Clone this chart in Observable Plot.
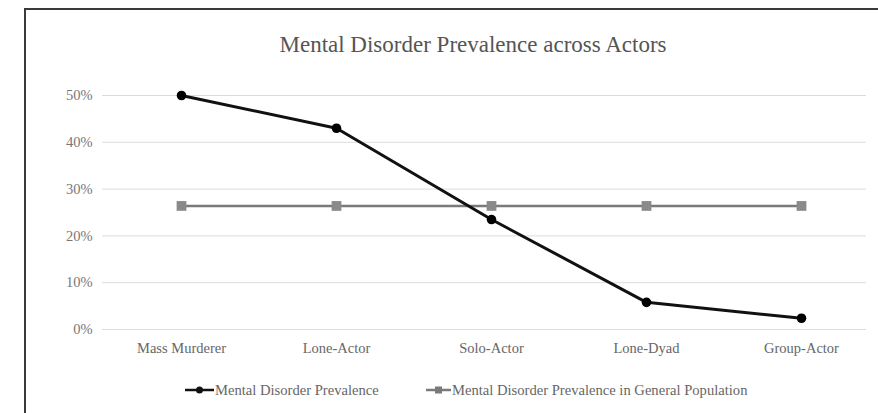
<!DOCTYPE html>
<html>
<head>
<meta charset="utf-8">
<script src="https://cdn.jsdelivr.net/npm/d3@7"></script>
<script src="https://cdn.jsdelivr.net/npm/@observablehq/plot@0.6"></script>
<style>
  html, body { margin: 0; padding: 0; background: #fff; }
  body { position: relative; width: 878px; height: 413px; overflow: hidden; font-family: "Liberation Serif", "Times New Roman", serif; }
  #topline { position: absolute; left: 24px; top: 8px; width: 854px; height: 2px; background: #3a3a3a; }
  #leftline { position: absolute; left: 24px; top: 8px; width: 2px; height: 405px; background: #3a3a3a; }
  #title { position: absolute; left: 68px; width: 810px; top: 33px; text-align: center;
           font-size: 23px; line-height: 23px; color: #555; }
  #chart { position: absolute; left: 0; top: 60px; }
  .leg { position: absolute; top: 381px; height: 18px; display: flex; align-items: center;
         font-size: 14.6px; color: #666; white-space: nowrap; }
  .leg svg { display: block; }
</style>
</head>
<body>
<div id="topline"></div>
<div id="leftline"></div>
<div id="title">Mental Disorder Prevalence across Actors</div>
<div id="chart"></div>
<div class="leg" id="leg1"></div>
<div class="leg" id="leg2"></div>
<script>
const categories = ["Mass Murderer", "Lone-Actor", "Solo-Actor", "Lone-Dyad", "Group-Actor"];
const prevalence = [0.50, 0.43, 0.235, 0.058, 0.024];
const generalPopulation = [0.264, 0.264, 0.264, 0.264, 0.264];
const yTicks = [0, 0.1, 0.2, 0.3, 0.4, 0.5];
const seriesNames = ["Mental Disorder Prevalence", "Mental Disorder Prevalence in General Population"];

const prevData = categories.map((c, i) => ({category: c, value: prevalence[i]}));
const genData = categories.map((c, i) => ({category: c, value: generalPopulation[i]}));
const fmt = d3.format(".0%");

const chart = Plot.plot({
  width: 878,
  height: 300,
  marginTop: 35,
  marginBottom: 31,
  marginLeft: 102,
  marginRight: 12,
  style: {fontFamily: "'Liberation Serif', 'Times New Roman', serif", fontSize: "14.5px", color: "#666", background: "transparent"},
  x: {type: "point", domain: categories, range: [181, 801], padding: 0, label: null},
  y: {domain: [0, 0.5], label: null},
  marks: [
    Plot.ruleY(yTicks, {stroke: "#dcdcdc", strokeWidth: 1}),
    Plot.axisY({ticks: yTicks, tickSize: 0, tickPadding: 10, tickFormat: fmt, label: null, fill: "#777"}),
    Plot.axisX({tickSize: 0, tickPadding: 13, label: null, fill: "#666"}),
    Plot.line(genData, {x: "category", y: "value", stroke: "#7a7a7a", strokeWidth: 2.5}),
    Plot.dot(genData, {x: "category", y: "value", symbol: "square", fill: "#8a8a8a", stroke: "none", r: 5.5}),
    Plot.line(prevData, {x: "category", y: "value", stroke: "#111", strokeWidth: 3}),
    Plot.dot(prevData, {x: "category", y: "value", fill: "#000", stroke: "none", r: 4.8})
  ]
});
document.getElementById("chart").appendChild(chart);

function legendItem(id, left, name, color, symbol, width) {
  const el = document.getElementById(id);
  el.style.left = left + "px";
  const ns = "http://www.w3.org/2000/svg";
  const svg = document.createElementNS(ns, "svg");
  svg.setAttribute("width", width);
  svg.setAttribute("height", 18);
  const line = document.createElementNS(ns, "line");
  line.setAttribute("x1", 0); line.setAttribute("x2", width);
  line.setAttribute("y1", 9); line.setAttribute("y2", 9);
  line.setAttribute("stroke", color); line.setAttribute("stroke-width", 2.5);
  svg.appendChild(line);
  let m;
  if (symbol === "circle") {
    m = document.createElementNS(ns, "circle");
    m.setAttribute("cx", width / 2); m.setAttribute("cy", 9); m.setAttribute("r", 3.5);
  } else {
    m = document.createElementNS(ns, "rect");
    m.setAttribute("x", width / 2 - 3.5); m.setAttribute("y", 5.5);
    m.setAttribute("width", 7); m.setAttribute("height", 7);
  }
  m.setAttribute("fill", color);
  svg.appendChild(m);
  el.appendChild(svg);
  const span = document.createElement("span");
  span.textContent = name;
  span.style.marginLeft = "1px";
  el.appendChild(span);
}
legendItem("leg1", 185, seriesNames[0], "#111", "circle", 29);
legendItem("leg2", 426, seriesNames[1], "#7a7a7a", "square", 25);
</script>
</body>
</html>
